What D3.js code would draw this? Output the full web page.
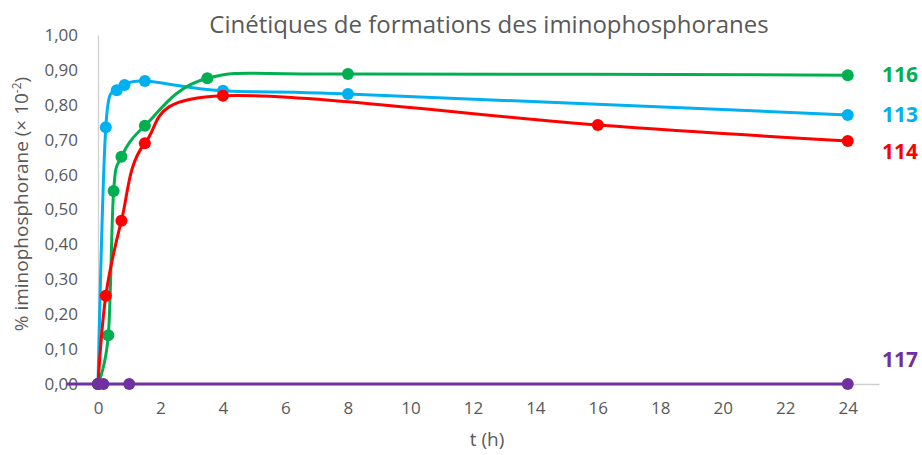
<!DOCTYPE html>
<html>
<head>
<meta charset="utf-8">
<script src="https://cdn.jsdelivr.net/npm/d3@7"></script>
<style>
  body { margin: 0; background: #fff; }
  svg { display: block; font-family: "Open Sans", "Noto Sans", sans-serif; }
</style>
</head>
<body>
<svg id="chart" width="922" height="455"></svg>
<script>
// Kinetics of iminophosphorane formation, % (× 10⁻²) vs time (h)
const t113 = [0, 0.25, 0.6, 0.85, 1.5, 4, 8, 24];
const v113 = [0, 0.736, 0.842, 0.857, 0.868, 0.840, 0.831, 0.771];

const t116 = [0, 0.33, 0.5, 0.75, 1.5, 3.5, 8, 24];
const v116 = [0, 0.14, 0.553, 0.651, 0.740, 0.876, 0.888, 0.885];

const t114 = [0, 0.25, 0.75, 1.5, 4, 16, 24];
const v114 = [0, 0.253, 0.468, 0.690, 0.826, 0.742, 0.696];

const t117 = [0, 0.17, 1, 24];
const v117 = [0, 0, 0, 0];

const xTicks = [0, 2, 4, 6, 8, 10, 12, 14, 16, 18, 20, 22, 24];
const yTicks = [0, 0.1, 0.2, 0.3, 0.4, 0.5, 0.6, 0.7, 0.8, 0.9, 1.0];

const series = [
  { name: "113", t: t113, v: v113, color: "#00B0F0", dy: 0 },
  { name: "116", t: t116, v: v116, color: "#00B050", dy: 0 },
  { name: "114", t: t114, v: v114, color: "#FF0000", dy: 11 },
  { name: "117", t: t117, v: v117, color: "#7030A0", dy: -24 }
];

const svg = d3.select("#chart");
const x = d3.scaleLinear().domain([0, 25]).range([98, 879]);
const y = d3.scaleLinear().domain([0, 1]).range([384, 35]);
const fmt = d => d3.format(".2f")(d).replace(".", ",");
const grey = "#595959";

// Axes (no tick marks, light grey lines)
const xAxis = svg.append("g").attr("transform", `translate(0,${y(0)})`)
  .call(d3.axisBottom(x).tickValues(xTicks).tickSize(0).tickPadding(18));
const yAxis = svg.append("g").attr("transform", `translate(${x(0)},0)`)
  .call(d3.axisLeft(y).tickValues(yTicks).tickFormat(fmt).tickSize(0).tickPadding(20));
[xAxis, yAxis].forEach(g => {
  g.select(".domain").attr("stroke", "#D0D0D0").attr("stroke-width", 1.3);
  g.selectAll("text").attr("fill", grey).attr("font-size", 17)
    .attr("font-family", "'Open Sans', sans-serif");
});

// Smoothed lines and markers
const line = d3.line().curve(d3.curveCatmullRom.alpha(0));
series.forEach(s => {
  const pts = s.t.map((t, i) => [x(t), y(s.v[i])]);
  svg.append("path").attr("d", line(pts)).attr("fill", "none")
    .attr("stroke", s.color).attr("stroke-width", 3).attr("stroke-linecap", "round");
  svg.append("g").selectAll("circle").data(pts).join("circle")
    .attr("cx", d => d[0]).attr("cy", d => d[1]).attr("r", 6)
    .attr("fill", s.color);
});

// Series labels at the right
series.forEach(s => {
  svg.append("text").attr("x", 882).attr("y", y(s.v[s.v.length - 1]) + s.dy)
    .attr("dy", "0.35em").attr("fill", s.color).attr("font-weight", 700)
    .attr("font-size", 21).text(s.name);
});

// Title
svg.append("text").attr("x", 489).attr("y", 33).attr("text-anchor", "middle")
  .attr("fill", grey).attr("font-size", 24).text("Cinétiques de formations des iminophosphoranes");

// Axis titles
svg.append("text").attr("x", 487).attr("y", 446).attr("text-anchor", "middle")
  .attr("fill", grey).attr("font-size", 19).text("t (h)");
const yt = svg.append("text").attr("transform", "translate(28,204) rotate(-90)")
  .attr("text-anchor", "middle").attr("fill", grey).attr("font-size", 19);
yt.append("tspan").text("% iminophosphorane (× 10");
yt.append("tspan").attr("font-size", 12).attr("dy", -7).text("-2");
yt.append("tspan").attr("dy", 7).text(")");
</script>
</body>
</html>
